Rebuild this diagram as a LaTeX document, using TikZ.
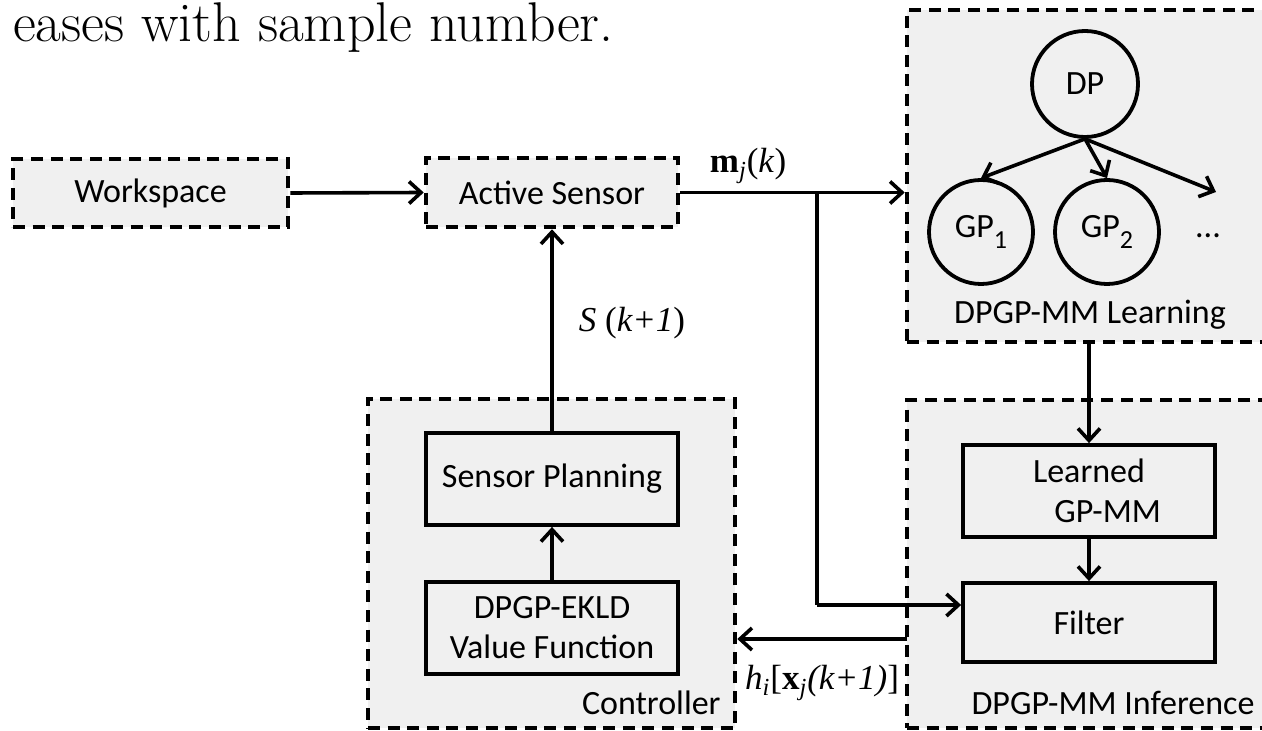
\documentclass[tikz,border=0pt]{standalone}
\usepackage{fontspec}
\usetikzlibrary{arrows.meta}
\newfontfamily\calfont{Carlito}
\newfontfamily\tmsfont{Liberation Serif}
\definecolor{boxgray}{RGB}{240,240,240}
\newcommand{\lowsub}[1]{\raisebox{-0.32em}{\fontsize{13}{13}\selectfont #1}}
\tikzset{
  sans/.style={font=\calfont\fontsize{17}{20}\selectfont},
  tlabel/.style={font=\tmsfont\fontsize{17.5}{20}\selectfont, inner sep=0pt},
  dashbox/.style={draw, fill=boxgray, line width=2.3pt, dash pattern=on 6pt off 3.8pt, inner sep=0pt},
  solidbox/.style={draw, line width=1.9pt, inner sep=0pt, sans, align=center},
  circ/.style={draw, circle, line width=1.9pt, inner sep=0pt, sans},
  conn/.style={line width=1.8pt, -{Straight Barb[length=6pt,width=11pt,line width=1.8pt]}},
  plain/.style={line width=1.8pt},
}
\begin{document}
\begin{tikzpicture}[x=0.5pt,y=-0.5pt]
\clip (0,0) rectangle (1262,731);
\fill[white] (0,0) rectangle (1262,731);
% top caption fragment
\node[anchor=base east, inner sep=0pt, font=\fontsize{28}{32}\selectfont] (cap) at (614,42) {eases with sample number.};
% outer dashed boxes
\node[dashbox, minimum width=137.5pt, minimum height=34pt, sans] (W) at (150.5,193) {Workspace};
\node[dashbox, minimum width=126pt, minimum height=34.5pt, sans] (AS) at (552,192.5) {Active Sensor};
\node[dashbox, minimum width=190pt, minimum height=166pt] (L) at (1097,176) {};
\node[dashbox, minimum width=190pt, minimum height=164pt] (I) at (1097,564) {};
\node[dashbox, minimum width=183.5pt, minimum height=164.5pt] (C) at (551.5,563.5) {};
% box labels
\node[sans, inner sep=0pt] (Llab) at (1090,315) {DPGP-MM Learning};
\node[sans, inner sep=0pt] (Ilab) at (1113,703) {DPGP-MM Inference};
\node[sans, inner sep=0pt, anchor=east] (Clab) at (721,703) {Controller};
% inner boxes
\node[solidbox, minimum width=126pt, minimum height=46pt] (SP) at (552,479) {Sensor Planning};
\node[solidbox, minimum width=126pt, minimum height=46pt] (VF) at (552,628) {DPGP-EKLD\\Value Function};
\node[solidbox, minimum width=126pt, minimum height=46pt] (LG) at (1089,491) {Learned\\\hspace*{1.1em}GP-MM};
\node[solidbox, minimum width=126pt, minimum height=39.5pt] (F) at (1089,622.5) {Filter};
% circles
\node[circ, minimum size=53pt] (DP) at (1085,84) {DP};
\node[circ, minimum size=52pt] (GP1) at (981,232) {GP\lowsub{1}};
\node[circ, minimum size=52pt] (GP2) at (1107,232) {GP\lowsub{2}};
\node[sans, inner sep=0pt] (dots) at (1208,236) {...};
\coordinate (more) at (1216,192);
% connectors
\draw[conn] (W.east) -- (AS.west);
\draw[conn] (AS.east) -- (L.west |- AS.east);
\coordinate (br) at (817,193);
\coordinate (brd) at (817,605);
\draw[plain] (br) -- (brd);
\draw[conn] (brd) -- (brd -| F.west);
\draw[conn] (DP.south) -- (GP1.north);
\draw[conn] (DP.south) -- (GP2.north);
\draw[conn] (DP.south) -- (more);
\draw[conn] (L.south -| LG.north) -- (LG.north);
\draw[conn] (LG.south) -- (F.north);
\draw[conn] (VF.north) -- (SP.south);
\draw[conn] (SP.north) -- (AS.south);
\coordinate (hy) at (907,639);
\draw[conn] (hy) -- (C.east |- hy);
% math-like labels
\node[tlabel] (mlab) at (748,166) {\textbf{m}\textsubscript{\textit{j}}(\textit{k})};
\node[tlabel] (slab) at (632,323) {\textit{S} (\textit{k+1})};
\node[tlabel] (hlab) at (822,683) {\textit{h}\textsubscript{\textit{i}}[\textbf{x}\textsubscript{\textit{j}}\textit{(k+1)}]};
\end{tikzpicture}
\end{document}
